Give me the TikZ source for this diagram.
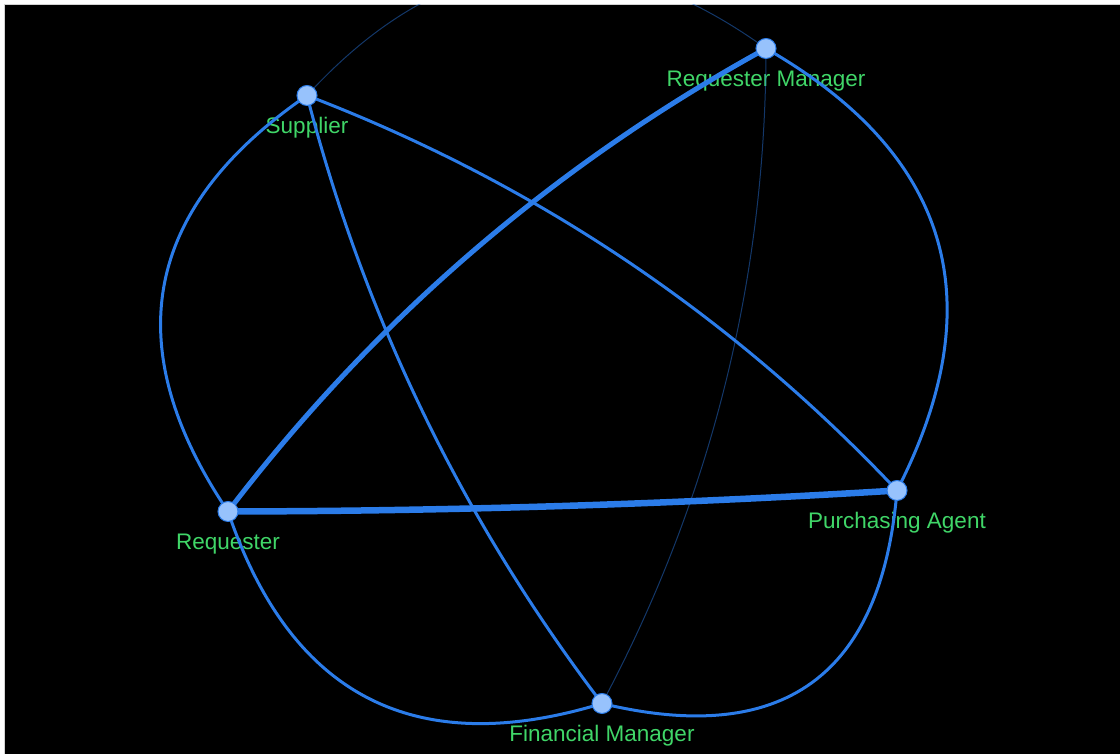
\documentclass[tikz,border=0pt]{standalone}
\usepackage{fontspec}
\setmainfont{Liberation Sans}
\usetikzlibrary{calc}
\definecolor{edgeblue}{RGB}{43,124,233}
\definecolor{nodefill}{RGB}{151,194,252}
\definecolor{lblgreen}{RGB}{64,214,104}
\pgfdeclarelayer{bg}
\pgfdeclarelayer{labels}
\pgfdeclarelayer{edges}
\pgfsetlayers{bg,labels,edges,main}
\newcommand\qedge[5]{%
  \coordinate (qctl) at ($(#1)!0.5!(#2)!#3pt!#4:(#2)$);
  \draw[#5] (#1.center) .. controls ($(#1.center)!2/3!(qctl)$) and ($(#2.center)!2/3!(qctl)$) .. (#2.center);
}
\tikzset{
  vnode/.style={circle, fill=nodefill, draw=edgeblue, line width=1pt, minimum size=20pt, inner sep=0pt},
  lbl/.style={text=lblgreen, font=\fontsize{22.5}{27}\selectfont, anchor=base, inner sep=0pt},
  edgen/.style={draw=edgeblue, line width=3pt},
  edgefaint/.style={draw=edgeblue, draw opacity=0.45, line width=1pt},
  edgethick/.style={draw=edgeblue, line width=5pt},
  edgethicker/.style={draw=edgeblue, line width=6.5pt}
}
\begin{document}
\begin{tikzpicture}[x=1pt,y=1pt]
\useasboundingbox (0,0) rectangle (1120,754);
\begin{pgfonlayer}{bg}
  \fill[white] (0,0) rectangle (1120,754);
  \fill[black] (5,0) rectangle (1120,749);
  \draw[gray!35, line width=1pt] (4.5,0) -- (4.5,749.5) -- (1120,749.5);
\end{pgfonlayer}
% nodes
\node[vnode] (sup) at (307,658.5) {};
\node[vnode] (rm)  at (766,705.5) {};
\node[vnode] (pa)  at (897,263.5) {};
\node[vnode] (req) at (228,242.5) {};
\node[vnode] (fm)  at (602,50.5) {};
% labels
\begin{pgfonlayer}{labels}
  \node[lbl] (sup-l) at ($(sup)+(0,-38)$) {Supplier};
  \node[lbl] (rm-l)  at ($(rm)+(0,-38)$) {Requester Manager};
  \node[lbl] (pa-l)  at ($(pa)+(0,-38)$) {Purchasing Agent};
  \node[lbl] (req-l) at ($(req)+(0,-38)$) {Requester};
  \node[lbl] (fm-l)  at ($(fm)+(0,-38)$) {Financial Manager};
\end{pgfonlayer}
% edges
\begin{pgfonlayer}{edges}
\begin{scope}
  \clip (5,0) rectangle (1120,749);
  \qedge{sup}{req}{210}{270}{edgen}
  \qedge{sup}{fm}{68}{270}{edgen}
  \qedge{sup}{pa}{81}{90}{edgen}
  \qedge{sup}{rm}{205}{90}{edgefaint}
  \qedge{rm}{req}{75}{270}{edgethick}
  \qedge{rm}{pa}{220}{90}{edgen}
  \qedge{rm}{fm}{84}{90}{edgefaint}
  \qedge{req}{pa}{10}{270}{edgethicker}
  \qedge{req}{fm}{204}{270}{edgen}
  \qedge{fm}{pa}{212}{270}{edgen}
\end{scope}
\end{pgfonlayer}
\end{tikzpicture}
\end{document}
